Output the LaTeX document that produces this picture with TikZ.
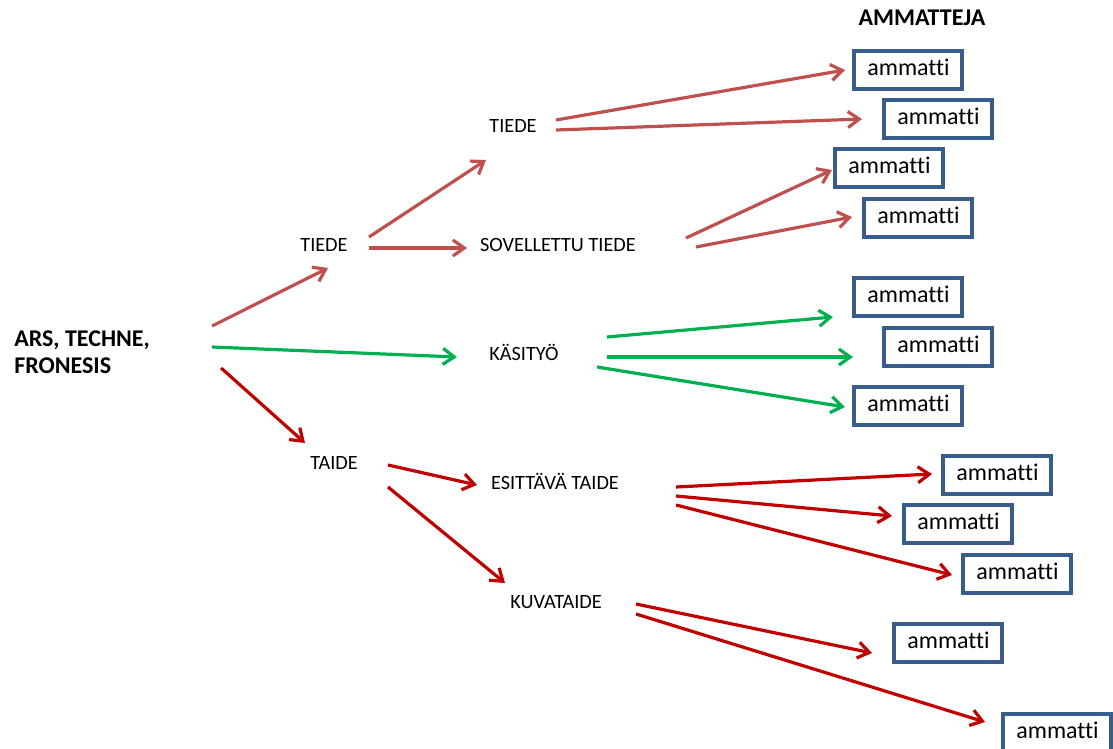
\documentclass[tikz,border=0pt]{standalone}
\usepackage{fontspec}
\setmainfont{Carlito}[Ligatures={NoCommon}]
\usetikzlibrary{arrows.meta}
\definecolor{sci}{HTML}{C0504D}
\definecolor{craft}{HTML}{00B050}
\definecolor{art}{HTML}{C00000}
\definecolor{frame}{HTML}{385D8A}

\begin{document}
\begin{tikzpicture}[x=0.75pt,y=-0.75pt,
  lbl/.style={font=\fontsize{15.2}{18}\selectfont, inner sep=0pt, text height=0.64em, text depth=0pt},
  head/.style={font=\bfseries\fontsize{18}{21}\selectfont, inner sep=0pt, text height=0.64em, text depth=0pt},
  job/.style={draw=frame, line width=2.6pt, text width=61pt, align=left, inner xsep=10pt,
    inner ysep=0pt, minimum height=28.5pt, font=\fontsize{18}{20}\selectfont, text height=0.75em, text depth=0pt},
  link/.style={line width=2.4pt, -{Straight Barb[length=8.5pt,width=12pt]}},
  scil/.style={link, draw=sci},
  craftl/.style={link, draw=craft},
  artl/.style={link, draw=art}
]
\useasboundingbox (0,0) rectangle (1113,749);
\clip (0,0) rectangle (1113,749);

% root and heading
\node[font=\bfseries\fontsize{18}{20.25}\selectfont, align=left, inner sep=0pt, anchor=west]
  (ars) at (14,352) {ARS, TECHNE,\\FRONESIS};
\node[head] (head) at (922,21.5) {AMMATTEJA};

% branch labels
\node[lbl] (tiede)  at (324,247) {TIEDE};
\node[lbl] (tiede2) at (513,128) {TIEDE};
\node[lbl] (sov)    at (558,247) {SOVELLETTU TIEDE};
\node[lbl] (kas)    at (524,356) {KÄSITYÖ};
\node[lbl] (taide)  at (334,465) {TAIDE};
\node[lbl] (esi)    at (555,485) {ESITTÄVÄ TAIDE};
\node[lbl] (kuva)   at (556,604) {KUVATAIDE};

% profession boxes
\node[job] (j1)  at (908,70)   {ammatti};
\node[job] (j2)  at (938,119)  {ammatti};
\node[job] (j3)  at (889,168)  {ammatti};
\node[job] (j4)  at (918,218)  {ammatti};
\node[job] (j5)  at (908,297)  {ammatti};
\node[job] (j6)  at (938,347)  {ammatti};
\node[job] (j7)  at (908,406)  {ammatti};
\node[job] (j8)  at (997,475)  {ammatti};
\node[job] (j9)  at (958,524)  {ammatti};
\node[job] (j10) at (1017,574) {ammatti};
\node[job] (j11) at (948,643)  {ammatti};
\node[job] (j12) at (1057,733) {ammatti};

% root to first level
\draw[scil]   ([shift={(62,-26)}]ars.east) -- ([shift={(4,21)}]tiede.center);
\draw[craftl] ([shift={(62,-5)}]ars.east)  -- ([shift={(-67,1)}]kas.center);
\draw[artl]   ([shift={(71,16)}]ars.east)  -- ([shift={(-29,-22)}]taide.center);

% science branch
\draw[scil] ([shift={(45,-10)}]tiede.center) -- ([shift={(-27,32)}]tiede2.center);
\draw[scil] ([shift={(45,1)}]tiede.center)   -- ([shift={(-91,1)}]sov.center);
\draw[scil] ([shift={(43,-8)}]tiede2.center) -- ([shift={(-63,0)}]j1.center);
\draw[scil] ([shift={(43,2)}]tiede2.center)  -- ([shift={(-76,0)}]j2.center);
\draw[scil] ([shift={(128,-9)}]sov.center)   -- ([shift={(-57,2)}]j3.center);
\draw[scil] ([shift={(138,0)}]sov.center)    -- ([shift={(-66,-1)}]j4.center);

% craft branch
\draw[craftl] ([shift={(83,-19)}]kas.center) -- ([shift={(-75,20)}]j5.center);
\draw[craftl] ([shift={(83,1)}]kas.center)   -- ([shift={(-85,10)}]j6.center);
\draw[craftl] ([shift={(73,11)}]kas.center)  -- ([shift={(-63,1)}]j7.center);

% art branch
\draw[artl] ([shift={(54,0)}]taide.center)  -- ([shift={(-78,0)}]esi.center);
\draw[artl] ([shift={(54,22)}]taide.center) -- ([shift={(-51,-21)}]kuva.center);
\draw[artl] ([shift={(121,2)}]esi.center)   -- ([shift={(-65,-1)}]j8.center);
\draw[artl] ([shift={(121,11)}]esi.center)  -- ([shift={(-66,-8)}]j9.center);
\draw[artl] ([shift={(121,20)}]esi.center)  -- ([shift={(-65,1)}]j10.center);
\draw[artl] ([shift={(80,0)}]kuva.center)   -- ([shift={(-76,10)}]j11.center);
\draw[artl] ([shift={(80,10)}]kuva.center)  -- ([shift={(-72,-11)}]j12.center);
\end{tikzpicture}
\end{document}
